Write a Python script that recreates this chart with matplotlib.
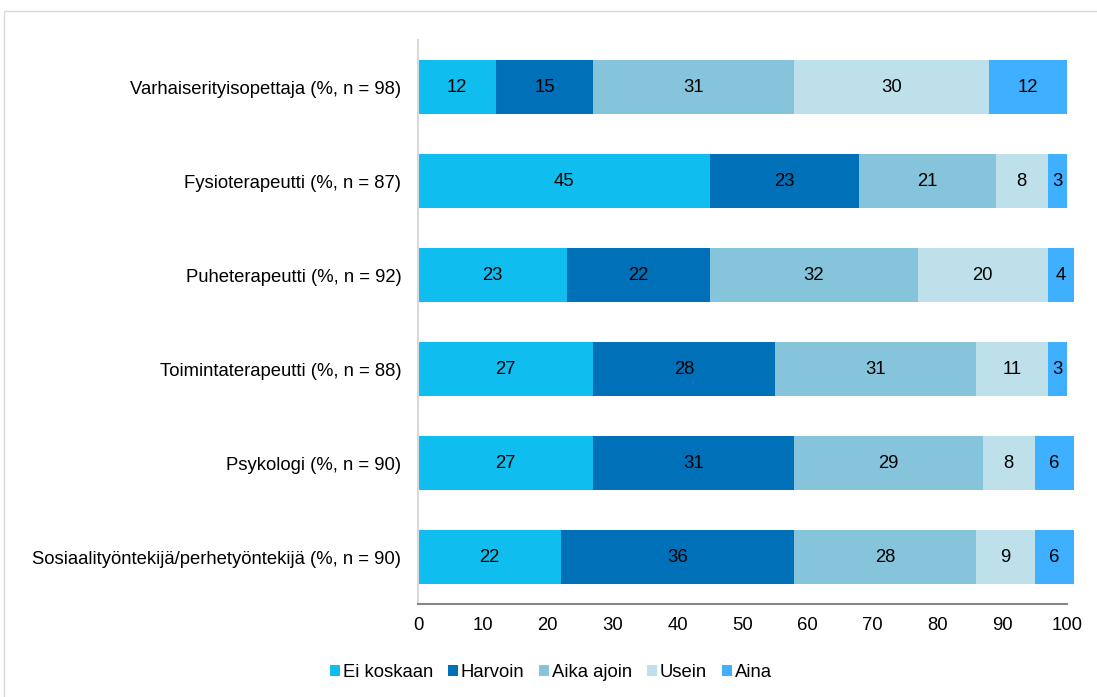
import numpy as np
import matplotlib.pyplot as plt
from matplotlib.patches import Rectangle

plt.rcParams['font.family'] = ['Liberation Sans', 'DejaVu Sans']

# Categories, top to bottom
categories = [
    'Varhaiserityisopettaja (%, n = 98)',
    'Fysioterapeutti (%, n = 87)',
    'Puheterapeutti (%, n = 92)',
    'Toimintaterapeutti (%, n = 88)',
    'Psykologi (%, n = 90)',
    'Sosiaalityöntekijä/perhetyöntekijä (%, n = 90)',
]

series_names = ['Ei koskaan', 'Harvoin', 'Aika ajoin', 'Usein', 'Aina']
ei_koskaan = [12, 45, 23, 27, 27, 22]
harvoin = [15, 23, 22, 28, 31, 36]
aika_ajoin = [31, 21, 32, 31, 29, 28]
usein = [30, 8, 20, 11, 8, 9]
aina = [12, 3, 4, 3, 6, 6]

colors = ['#0FBDEF', '#0070B8', '#85C4DB', '#BDE0EA', '#3FB0FF']
fs = 13.3

fig = plt.figure(figsize=(10.97, 6.97), dpi=100)
ax = fig.add_axes([0.381, 0.1334, 0.5917, 0.8092])

# outer chart frame
fig.patches.append(Rectangle((0.0036, -0.01), 1.0, 0.994, transform=fig.transFigure,
                             fill=False, edgecolor='#D9D9D9', linewidth=1.0))

y = np.arange(len(categories))
left = np.zeros(len(categories))
for name, vals, col in zip(series_names, [ei_koskaan, harvoin, aika_ajoin, usein, aina], colors):
    vals = np.array(vals, dtype=float)
    ax.barh(y, vals, left=left, height=0.575, color=col, label=name, clip_on=False)
    for yi, l, v in zip(y, left, vals):
        ax.text(l + v / 2, yi, f'{int(v)}', ha='center', va='center', fontsize=fs, color='black')
    left += vals

ax.set_xlim(0, 100)
ax.set_ylim(len(categories) - 0.5, -0.5)
ax.set_xticks(np.arange(0, 101, 10))
ax.set_yticks(y)
ax.set_yticklabels(categories)
ax.tick_params(axis='both', length=0, labelsize=fs)
ax.tick_params(axis='x', pad=9)
ax.tick_params(axis='y', pad=12)

for s in ['top', 'right']:
    ax.spines[s].set_visible(False)
ax.spines['left'].set_color('#D9D9D9')
ax.spines['bottom'].set_color('#868686')
ax.spines['left'].set_linewidth(1.5)
ax.spines['bottom'].set_linewidth(1.5)

fig.legend(loc='center', bbox_to_anchor=(0.502, 0.035), ncol=5, frameon=False,
           fontsize=fs, handlelength=0.55, handleheight=0.55, handletextpad=0.15,
           columnspacing=0.8)

fig.savefig('out.png', dpi=100)
